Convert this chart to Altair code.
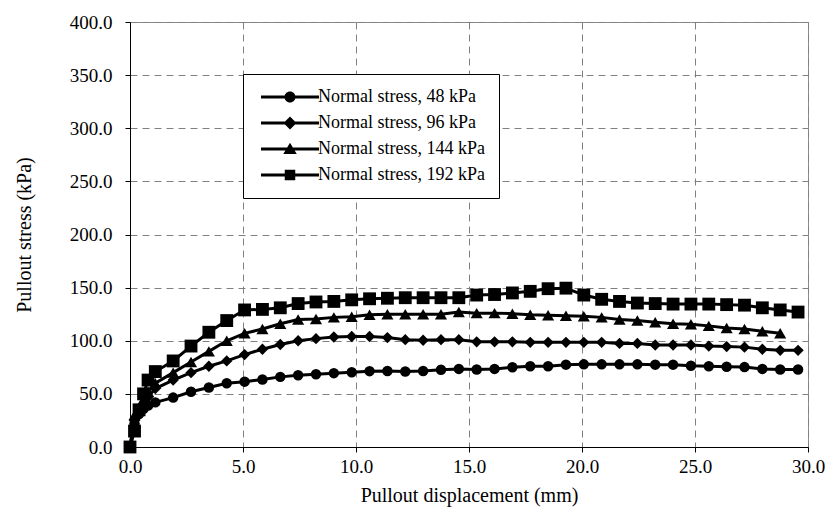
import altair as alt
import pandas as pd

# Pullout displacement (mm) at each reading
displacement = [0, 0.2, 0.4, 0.6, 0.8, 1.12, 1.91, 2.70, 3.49, 4.28, 5.07, 5.86, 6.65, 7.44,
                8.23, 9.02, 9.81, 10.60, 11.39, 12.18, 12.97, 13.76, 14.55, 15.34, 16.13,
                16.92, 17.71, 18.50, 19.29, 20.08, 20.87, 21.66, 22.45, 23.24, 24.03, 24.82,
                25.61, 26.40, 27.19, 27.98, 28.77, 29.56]

# Pullout stress (kPa)
stress_48 = [0, 22, 31, 36, 39, 42, 46.5, 52, 56, 60, 61.5, 63.5, 66, 67.5, 68.5, 69.5, 70.3,
             71.4, 71.5, 71, 71.5, 72.7, 73.5, 73, 73.5, 75, 76, 76, 77.5, 77.8, 77.8, 77.8,
             77.8, 77.5, 77.5, 76.5, 76, 75.5, 75.2, 73.5, 73, 73]
stress_96 = [0, 25, 33, 40, 47, 55, 63, 70, 76, 81, 87, 92, 96.5, 100, 102, 103.5, 104, 104,
             103, 101, 100.5, 101, 101, 99, 99, 99, 98.5, 98.5, 98.5, 98.5, 98.5, 97.5, 97.5,
             96, 96, 96, 95, 94.5, 94, 92, 91, 91]
stress_144 = [0, 30, 37, 45, 52, 60, 70, 80, 90, 100, 107, 111, 116, 120, 120.5, 122, 122.5,
              124.5, 125, 125, 125, 125, 127, 126, 126, 125.5, 124.5, 124, 123.5, 123,
              122, 120, 119, 117.5, 116, 115.5, 114, 112, 111, 109, 107]
stress_192 = [0, 15, 35, 50, 63, 71, 81, 95, 108, 119, 129, 129.5, 131, 135, 136.5, 137, 138.5,
              139.5, 140, 140.5, 140.5, 140.5, 140.5, 143, 143.5, 145, 146.5, 149, 149.5, 143,
              139, 137, 135.5, 135, 134.5, 134.5, 134.5, 134, 133.5, 131, 129, 127]

series_labels = ["Normal stress, 48 kPa", "Normal stress, 96 kPa",
                 "Normal stress, 144 kPa", "Normal stress, 192 kPa"]
x_ticks = [0, 5, 10, 15, 20, 25, 30]
y_ticks = [0, 50, 100, 150, 200, 250, 300, 350, 400]

rows = []
for label, vals in zip(series_labels, [stress_48, stress_96, stress_144, stress_192]):
    for i, (x, y) in enumerate(zip(displacement, vals)):
        rows.append({"series": label, "disp": x, "stress": y, "idx": i})
df = pd.DataFrame(rows)

FONT = "Liberation Serif"

x_enc = alt.X("disp:Q", scale=alt.Scale(domain=[0, 30], nice=False),
              axis=alt.Axis(title="Pullout displacement (mm)", values=x_ticks, format=".1f",
                            labelPadding=5, titlePadding=9, labelFlush=False))
y_enc = alt.Y("stress:Q", scale=alt.Scale(domain=[0, 400], nice=False),
              axis=alt.Axis(title="Pullout stress (kPa)", values=y_ticks, format=".1f",
                            labelPadding=13, titlePadding=35, labelFlush=False))

lines = alt.Chart(df).mark_line(color="black", strokeWidth=3).encode(
    x=x_enc, y=y_enc, detail="series:N", order="idx:Q")

points = alt.Chart(df).mark_point(filled=True, color="black", opacity=1).encode(
    x=x_enc, y=y_enc,
    shape=alt.Shape("series:N", scale=alt.Scale(domain=series_labels,
                    range=["circle", "diamond", "triangle-up", "square"]), legend=None),
    size=alt.Size("series:N", scale=alt.Scale(domain=series_labels,
                  range=[110, 165, 150, 110]), legend=None))

# legend symbols: line with marker (units of 5 px)
line_part = "M-1,-0.3H10.6V0.3H-1Z "
legend_paths = [
    line_part + "M3.7,0A1.1,1.1 0 1,1 5.9,0A1.1,1.1 0 1,1 3.7,0Z",
    line_part + "M4.8,-1.3L6.1,0L4.8,1.3L3.5,0Z",
    line_part + "M4.8,-1.25L6.15,1L3.45,1Z",
    line_part + "M3.75,-1.05H5.85V1.05H3.75Z",
]

legend_layer = alt.Chart(df).mark_point(filled=True, color="black", opacity=0).encode(
    x=x_enc, y=y_enc,
    shape=alt.Shape("series:N", scale=alt.Scale(domain=series_labels, range=legend_paths),
                    legend=alt.Legend(title=None, orient="none", legendX=113, legendY=52,
                                      symbolSize=100, symbolOpacity=1, symbolFillColor="black",
                                      symbolStrokeWidth=0, labelOffset=43, padding=14,
                                      rowPadding=8, strokeColor="black", fillColor="white",
                                      labelFont=FONT, labelFontSize=18, labelColor="black",
                                      labelLimit=400)))

chart = alt.layer(lines, points, legend_layer).resolve_scale(
    shape="independent", size="independent"
).properties(
    width=678, height=425,
    padding={"left": 130, "top": 22, "right": 17, "bottom": 63},
    autosize=alt.AutoSizeParams(type="none"),
    background="white",
).configure_view(
    stroke="#8c8c8c", strokeWidth=1
).configure_axis(
    labelFont=FONT, labelFontSize=19, labelColor="black",
    titleFont=FONT, titleFontSize=20, titleColor="black", titleFontWeight="normal",
    domainColor="black", domainWidth=1, tickColor="black", tickSize=5, tickWidth=1,
    gridColor="#808080", gridDash=[7, 5], gridWidth=1,
)

chart.save("out.html", embed_options={"renderer": "svg", "actions": False})
